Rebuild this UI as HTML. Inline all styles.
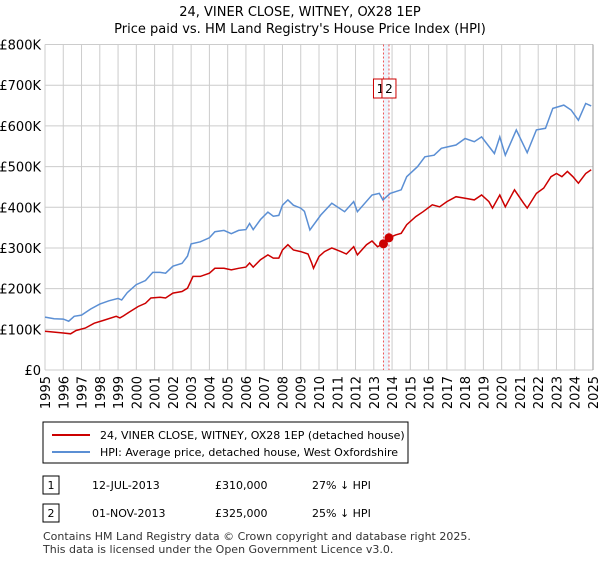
<!DOCTYPE html>
<html><head><meta charset="utf-8"><style>
body{margin:0;background:#fff;font-family:"Liberation Sans","DejaVu Sans",sans-serif;}
svg text{font-family:"DejaVu Sans","Liberation Sans",sans-serif;}
</style></head><body>
<svg id="c" width="600" height="560" viewBox="0 0 600 560">
<text x="300" y="16" text-anchor="middle" font-size="13">24, VINER CLOSE, WITNEY, OX28 1EP</text>
<text x="300" y="33" text-anchor="middle" font-size="13">Price paid vs. HM Land Registry's House Price Index (HPI)</text>
<g id="grid"></g><g id="band"></g><g id="series"></g><g id="axes"></g>
<rect x="43" y="422" width="365" height="41" fill="#fff" stroke="#000" stroke-width="1"/>
<line x1="52" y1="435" x2="90" y2="435" stroke="#cc0000" stroke-width="2"/>
<text x="100" y="439" font-size="11">24, VINER CLOSE, WITNEY, OX28 1EP (detached house)</text>
<line x1="52" y1="452" x2="90" y2="452" stroke="#5b8fd4" stroke-width="2"/>
<text x="100" y="456" font-size="11">HPI: Average price, detached house, West Oxfordshire</text>
<rect x="43" y="476" width="16" height="18" fill="#fff" stroke="#000"/>
<text x="51" y="489" text-anchor="middle" font-size="11">1</text>
<text x="92" y="489" font-size="11">12-JUL-2013</text>
<text x="215" y="489" font-size="11">£310,000</text>
<text x="312" y="489" font-size="11">27% ↓ HPI</text>
<rect x="43" y="504" width="16" height="18" fill="#fff" stroke="#000"/>
<text x="51" y="517" text-anchor="middle" font-size="11">2</text>
<text x="92" y="517" font-size="11">01-NOV-2013</text>
<text x="215" y="517" font-size="11">£325,000</text>
<text x="312" y="517" font-size="11">25% ↓ HPI</text>
<text x="43" y="540" font-size="11" fill="#333">Contains HM Land Registry data © Crown copyright and database right 2025.</text>
<text x="43" y="553" font-size="11" fill="#333">This data is licensed under the Open Government Licence v3.0.</text>
</svg>
<script>
const yTicks=[0,100,200,300,400,500,600,700,800];
const yTickLabels=["£0","£100K","£200K","£300K","£400K","£500K","£600K","£700K","£800K"];
const xYears=[1995,1996,1997,1998,1999,2000,2001,2002,2003,2004,2005,2006,2007,2008,2009,2010,2011,2012,2013,2014,2015,2016,2017,2018,2019,2020,2021,2022,2023,2024,2025];
const hpiDates=[1995.0,1995.5,1996.0,1996.3,1996.6,1997.0,1997.5,1998.0,1998.5,1999.0,1999.2,1999.5,2000.0,2000.5,2000.9,2001.3,2001.6,2002.0,2002.5,2002.8,2003.0,2003.5,2004.0,2004.3,2004.8,2005.2,2005.6,2006.0,2006.2,2006.4,2006.8,2007.2,2007.5,2007.8,2008.0,2008.3,2008.6,2009.0,2009.2,2009.5,2010.1,2010.7,2011.4,2011.9,2012.1,2012.9,2013.3,2013.5,2013.9,2014.5,2014.8,2015.4,2015.8,2016.3,2016.7,2017.1,2017.5,2018.0,2018.5,2018.9,2019.6,2019.9,2020.2,2020.8,2021.4,2021.9,2022.4,2022.8,2023.4,2023.8,2024.2,2024.6,2024.9];
const hpiValues=[130,126,125,120,132,135,150,162,170,176,172,190,210,220,240,240,238,255,262,280,310,315,325,340,343,335,343,345,360,345,370,388,378,380,405,418,405,398,390,344,381,410,389,414,389,430,434,418,434,443,475,500,524,528,545,549,553,569,561,573,532,573,528,590,534,590,594,643,651,639,614,655,649];
const ppDates=[1995.0,1996.0,1996.4,1996.7,1997.2,1997.7,1998.2,1998.9,1999.1,1999.3,1999.6,2000.1,2000.5,2000.8,2001.3,2001.6,2002.0,2002.5,2002.8,2003.1,2003.5,2004.0,2004.3,2004.8,2005.2,2005.6,2006.0,2006.2,2006.4,2006.8,2007.2,2007.5,2007.8,2008.0,2008.3,2008.6,2009.0,2009.4,2009.6,2009.7,2010.0,2010.3,2010.7,2011.2,2011.5,2011.9,2012.1,2012.6,2012.9,2013.2,2013.53,2013.83,2014.2,2014.5,2014.8,2015.3,2015.7,2016.2,2016.6,2017.0,2017.5,2018.0,2018.5,2018.9,2019.3,2019.5,2019.9,2020.2,2020.7,2021.2,2021.4,2021.9,2022.3,2022.7,2023.0,2023.3,2023.6,2023.9,2024.2,2024.6,2024.9];
const ppValues=[95,91,89,97,103,115,122,132,128,133,142,156,164,177,179,177,189,193,201,230,230,238,250,250,246,250,253,263,253,271,283,275,275,295,308,295,291,285,263,250,279,291,300,291,285,303,283,308,317,303,310,325,332,336,357,377,389,406,401,414,426,422,418,430,414,398,430,401,443,410,398,434,447,475,483,475,488,475,459,483,492];
const saleDates=[2013.53,2013.83];
const saleValues=[310,325];
const saleLabels=["1","2"];
const X0=45,X1=593,Y0=370,Y1=44.5;
const xs=d=>X0+(d-1995)/(2025-1995)*(X1-X0);
const ys=v=>Y0-v/800*(Y0-Y1);
const NS="http://www.w3.org/2000/svg";
function mk(p,t,a){const e=document.createElementNS(NS,t);for(const k in a)e.setAttribute(k,a[k]);p.appendChild(e);return e;}
const grid=document.getElementById('grid'),axes=document.getElementById('axes'),band=document.getElementById('band'),ser=document.getElementById('series');
yTicks.forEach((v,i)=>{
 const l=mk(grid,'line',{x1:X0,x2:X1,y1:ys(v),y2:ys(v),stroke:'#cccccc','stroke-width':1});
 
 
 const t=mk(axes,'text',{x:X0-4,y:ys(v)+5,'text-anchor':'end','font-size':13});
 t.textContent=yTickLabels[i];
 
 
});
xYears.forEach(y=>{
 const l=mk(grid,'line',{x1:xs(y),x2:xs(y),y1:Y1,y2:Y0,stroke:'#cccccc','stroke-width':1});
 
 
 const t=mk(axes,'text',{transform:`translate(${xs(y)+5},${Y0+6}) rotate(-90)`,'text-anchor':'end','font-size':13});
 t.textContent=y;
 
 
});
const bx=mk(band,'rect',{x:xs(saleDates[0]),y:Y1,width:xs(saleDates[1])-xs(saleDates[0]),height:Y0-Y1,fill:'#e8f0fb',opacity:0.8});


saleDates.forEach((d,i)=>{
 const l=mk(band,'line',{x1:xs(d),x2:xs(d),y1:Y1,y2:Y0,stroke:'#ee5555','stroke-width':1,'stroke-dasharray':'2,2'});
 
 
});
const line=(ds,vs,c,n)=>{const p=mk(ser,'path',{d:ds.map((d,i)=>(i?'L':'M')+xs(d).toFixed(1)+','+ys(vs[i]).toFixed(1)).join(''),fill:'none',stroke:c,'stroke-width':1.5});
 
 };
line(hpiDates,hpiValues,'#5b8fd4','hpi-line');
line(ppDates,ppValues,'#cc0000','property-price-line');
saleDates.forEach((d,i)=>{
 const c=mk(ser,'circle',{cx:xs(d),cy:ys(saleValues[i]),r:4.5,fill:'#cc0000'});
 
 
 const r=mk(ser,'rect',{x:xs(d)-8+(i?1:-2),y:79,width:14,height:19,fill:'#fff',stroke:'#cc0000'});
 
 
 const t=mk(ser,'text',{x:xs(d)-1+(i?1:-2),y:93,'text-anchor':'middle','font-size':12});
 t.textContent=saleLabels[i];
 
 
});
const e=mk(axes,'line',{x1:X1,x2:X1,y1:Y1,y2:Y0,stroke:'#999','stroke-width':1});


</script>
</body></html>
